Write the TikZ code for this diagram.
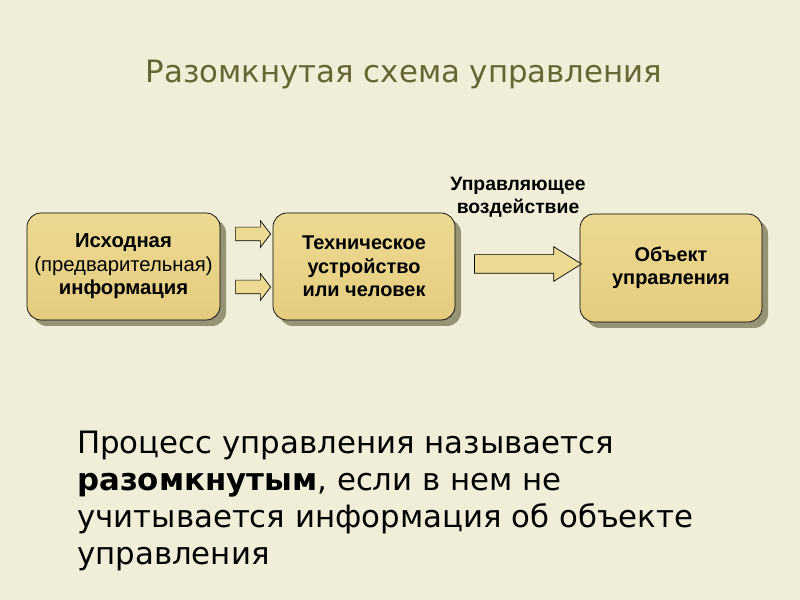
\documentclass[tikz,border=0pt]{standalone}
\usepackage{fontspec}
\setmainfont{DejaVu Sans}
\newfontfamily\arialfont{Liberation Sans}
\usetikzlibrary{shapes.arrows, shadows}
\definecolor{slidebg}{RGB}{240,238,216}
\definecolor{titleolive}{RGB}{102,102,51}
\definecolor{boxtop}{RGB}{236,218,146}
\definecolor{boxbottom}{RGB}{228,204,126}
\definecolor{boxshadow}{RGB}{150,146,118}

\begin{document}
\begin{tikzpicture}[
    x=0.03cm, y=-0.03cm,
    block/.style={draw=black, line width=0.6pt, rounded corners=14*0.03cm,
      top color=boxtop, bottom color=boxbottom, align=center, inner sep=0pt,
      drop shadow={shadow xshift=6*0.03cm, shadow yshift=-6*0.03cm, fill=boxshadow, opacity=1},
      font=\arialfont\fontsize{17.3}{20}\selectfont},
    boldblock/.style={block, font=\arialfont\bfseries\fontsize{17}{20}\selectfont},
    blockarrow/.style={single arrow, draw=black, line width=0.6pt, fill=boxtop,
      inner sep=0pt, outer sep=0pt, text width=0pt, text depth=0pt},
    bigarrow/.style={blockarrow, text height=18*0.03cm, minimum height=107*0.03cm,
      single arrow head extend=8*0.03cm, single arrow tip angle=64},
    smallarrow/.style={blockarrow, text height=13*0.03cm, minimum height=35*0.03cm,
      single arrow head extend=6.5*0.03cm, single arrow tip angle=105},
    slidetext/.style={font=\fontsize{26.3}{31.6}\selectfont}
  ]
  \fill[slidebg] (0,0) rectangle (800,600);

  \node[slidetext, text=titleolive] (title) at (404,74) {Разомкнутая схема управления};

  \node[block, minimum width=193*0.03cm, minimum height=107*0.03cm] (source) at (123.5,266.5)
    {\textbf{Исходная}\\(предварительная)\\\textbf{информация}};
  \node[boldblock, minimum width=182*0.03cm, minimum height=107*0.03cm] (device) at (364,266.5)
    {Техническое\\устройство\\или человек};
  \node[boldblock, minimum width=182*0.03cm, minimum height=108*0.03cm] (object) at (671,268)
    {Объект\\управления};

  \node[smallarrow] (inA) at (250.5,234) {};
  \node[smallarrow] (inB) at (250.5,287) {};
  \node[bigarrow] (act) at (520.5,264) {};
  \node[align=center, font=\arialfont\bfseries\fontsize{16.5}{20}\selectfont] (actlabel) at (518,197)
    {Управляющее\\воздействие};

  \node[slidetext, anchor=north west, align=left, inner sep=0pt] (definition) at (77,431)
    {Процесс управления называется\\\textbf{разомкнутым}, если в нем не\\учитывается информация об объекте\\управления};
\end{tikzpicture}
\end{document}
